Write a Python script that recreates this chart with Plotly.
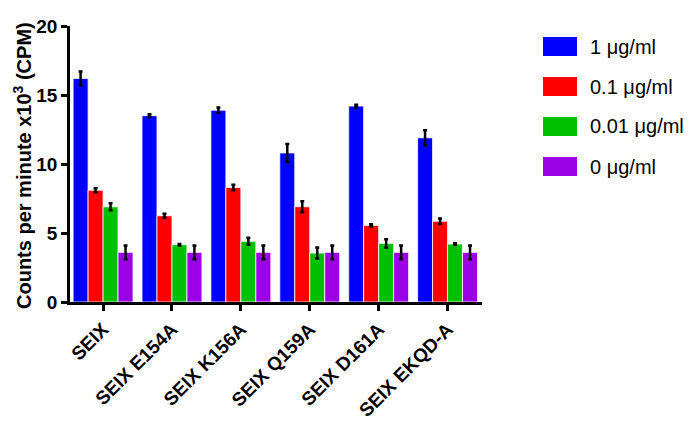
import plotly.graph_objects as go

categories = ["SEIX", "SEIX E154A", "SEIX K156A", "SEIX Q159A", "SEIX D161A", "SEIX EKQD-A"]
series_names = ["1 \u03bcg/ml", "0.1 \u03bcg/ml", "0.01 \u03bcg/ml", "0 \u03bcg/ml"]
vals_1 = [16.2, 13.5, 13.9, 10.8, 14.2, 11.9]
err_1 = [0.5, 0.1, 0.2, 0.65, 0.1, 0.55]
vals_01 = [8.1, 6.25, 8.3, 6.9, 5.55, 5.85]
err_01 = [0.15, 0.15, 0.2, 0.4, 0.08, 0.2]
vals_001 = [6.9, 4.15, 4.4, 3.55, 4.25, 4.2]
err_001 = [0.25, 0.05, 0.25, 0.4, 0.3, 0.05]
vals_0 = [3.6, 3.6, 3.6, 3.6, 3.6, 3.6]
err_0 = [0.5, 0.5, 0.5, 0.5, 0.5, 0.5]
colors = ["#0000FF", "#FF0000", "#00C000", "#9B00E6"]
yticks = [0, 5, 10, 15, 20]
y_title = "Counts per minute x10<sup>3</sup> (CPM)"

series_vals = [vals_1, vals_01, vals_001, vals_0]
series_errs = [err_1, err_01, err_001, err_0]

FONT = "Arial, Liberation Sans"
OFF = 8  # page body margin
W, H = 696 - OFF, 422 - OFF
L, T = 70 - OFF, 26 - OFF
R, B = W - (482 - OFF), H - (302 - OFF)
PW, PH = W - L - R, H - T - B


def px(xp):
    return (xp - OFF - L) / PW


def py(yp):
    return 1 - (yp - OFF - T) / PH


fig = go.Figure()
for name, v, e, c in zip(series_names, series_vals, series_errs, colors):
    fig.add_trace(go.Bar(
        x=list(range(len(categories))), y=v, name=name,
        marker=dict(color=c, line=dict(color="white", width=0.8)),
        error_y=dict(type="data", array=e, color="black", thickness=2.5, width=2),
        showlegend=False,
    ))

# custom legend with large swatches
for i, (name, c) in enumerate(zip(series_names, colors)):
    top = 37 + 40 * i
    fig.add_shape(type="rect", xref="paper", yref="paper",
                  x0=px(543), x1=px(577), y0=py(top + 19), y1=py(top),
                  fillcolor=c, line=dict(width=0))
    fig.add_annotation(xref="paper", yref="paper", x=px(588),
                       y=py(top + 9.5), text=name, showarrow=False,
                       xanchor="left", yanchor="middle",
                       font=dict(family=FONT, size=20, color="black"))

# y-axis title
fig.add_annotation(xref="paper", yref="paper", x=px(22), y=py(166),
                   text=y_title, showarrow=False, textangle=-90,
                   xanchor="center", yanchor="middle",
                   font=dict(family=FONT, size=20, color="black", weight="bold"))

fig.update_layout(
    width=W, height=H,
    margin=dict(l=L, r=R, t=T, b=B),
    paper_bgcolor="white", plot_bgcolor="white",
    barmode="group", bargap=0.13, bargroupgap=0.0,
    font=dict(family=FONT, color="black"),
)
fig.update_xaxes(
    range=[-0.48, 5.5], tickvals=list(range(len(categories))), ticktext=categories,
    tickangle=-45, showgrid=False, zeroline=False, automargin=False,
    showline=True, linecolor="black", linewidth=2.5,
    ticks="outside", ticklen=6, tickwidth=2.5, tickcolor="black",
    tickfont=dict(family=FONT, size=19, color="black", weight="bold"),
)
fig.update_yaxes(
    range=[0, 20], tickvals=yticks, showgrid=False, zeroline=False, automargin=False,
    showline=True, linecolor="black", linewidth=2.5,
    ticks="outside", ticklen=6, tickwidth=2.5, tickcolor="black",
    tickfont=dict(family=FONT, size=19, color="black", weight="bold"),
)

fig.write_html("out.html")
